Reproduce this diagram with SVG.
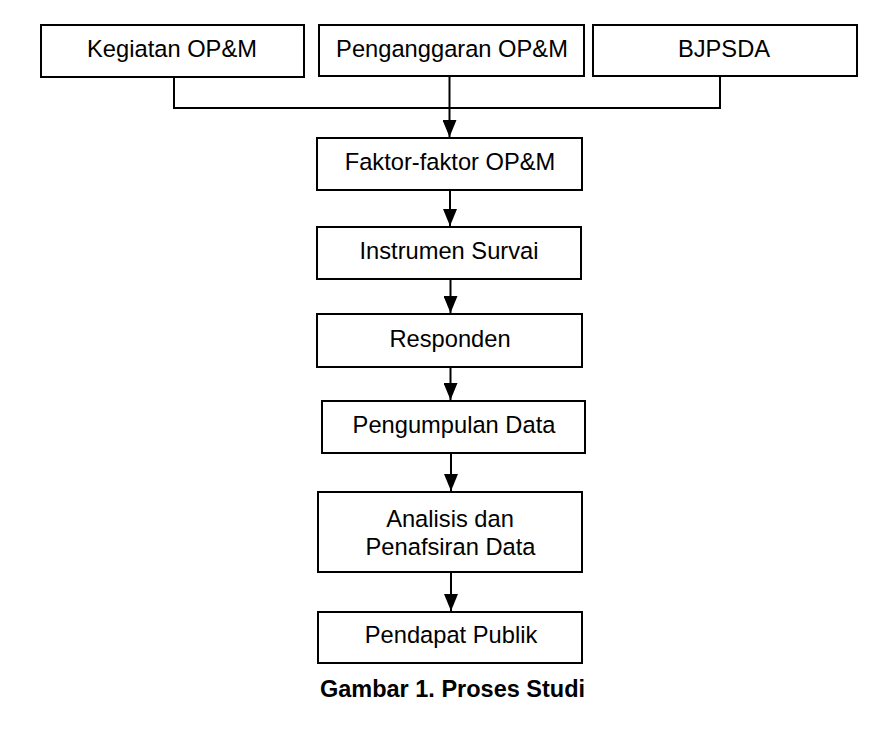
<svg xmlns="http://www.w3.org/2000/svg" width="890" height="731" viewBox="0 0 890 731">
<defs>
<style>
.box{fill:#fff;stroke:#000;stroke-width:2}
.t{font-family:"Liberation Sans",Arial,sans-serif;font-size:23.7px;fill:#000;text-anchor:middle}
.cap{font-family:"Liberation Sans",Arial,sans-serif;font-size:23.5px;font-weight:bold;fill:#000;text-anchor:middle}
.ln{fill:none;stroke:#000;stroke-width:2}
</style>
<marker id="ah" viewBox="0 0 17 14" refX="17" refY="7" markerWidth="17" markerHeight="14" markerUnits="userSpaceOnUse" orient="auto">
<path d="M0,0 L17,7 L0,14 Z" fill="#000"/>
</marker>
</defs>
<rect width="890" height="731" fill="#fff"/>
<g id="connectors">
<path class="ln" d="M174,77 V108 H720 V77"/>
<line class="ln" x1="449.5" y1="76" x2="449.5" y2="137" marker-end="url(#ah)"/>
<line class="ln" x1="450" y1="190" x2="450" y2="226" marker-end="url(#ah)"/>
<line class="ln" x1="450.5" y1="279" x2="450.5" y2="313" marker-end="url(#ah)"/>
<line class="ln" x1="450.5" y1="367" x2="450.5" y2="400" marker-end="url(#ah)"/>
<line class="ln" x1="451" y1="453" x2="451" y2="491" marker-end="url(#ah)"/>
<line class="ln" x1="451" y1="572" x2="451" y2="611" marker-end="url(#ah)"/>
</g>
<g id="kegiatan"><rect class="box" x="41" y="25" width="263" height="52"/><text class="t" x="172" y="57">Kegiatan OP&amp;M</text></g>
<g id="penganggaran"><rect class="box" x="319" y="25" width="265" height="51"/><text class="t" x="452" y="57">Penganggaran OP&amp;M</text></g>
<g id="bjpsda"><rect class="box" x="593" y="25" width="264" height="51"/><text class="t" x="724" y="57">BJPSDA</text></g>
<g id="faktor"><rect class="box" x="317" y="138" width="265" height="52"/><text class="t" x="450" y="170">Faktor-faktor OP&amp;M</text></g>
<g id="instrumen"><rect class="box" x="317" y="227" width="264" height="52"/><text class="t" x="449" y="259">Instrumen Survai</text></g>
<g id="responden"><rect class="box" x="317" y="314" width="265" height="53"/><text class="t" x="450" y="347">Responden</text></g>
<g id="pengumpulan"><rect class="box" x="322" y="401" width="263" height="52"/><text class="t" x="454" y="433">Pengumpulan Data</text></g>
<g id="analisis"><rect class="box" x="318" y="492" width="264" height="80"/><text class="t" x="450" y="527">Analisis dan</text><text class="t" x="450.5" y="555">Penafsiran Data</text></g>
<g id="pendapat"><rect class="box" x="318" y="612" width="264" height="51"/><text class="t" x="451" y="643">Pendapat Publik</text></g>
<text class="cap" x="452.5" y="697">Gambar 1. Proses Studi</text>
</svg>
